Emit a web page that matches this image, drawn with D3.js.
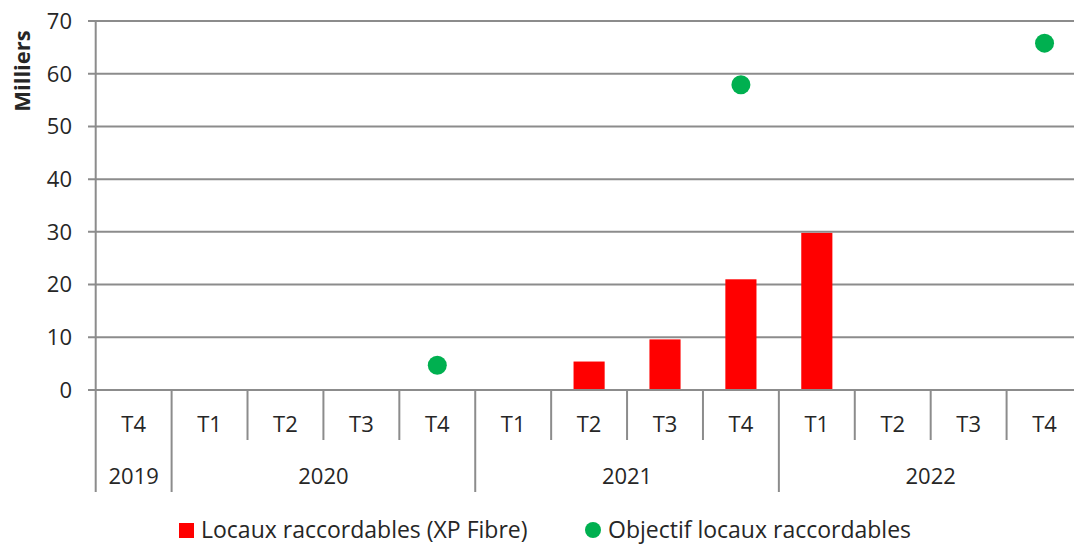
<!DOCTYPE html>
<html><head><meta charset="utf-8">
<script src="https://cdn.jsdelivr.net/npm/d3@7"></script>
<style>body{margin:0;background:#fff}svg{display:block}text{font-family:"Open Sans",sans-serif;fill:#262626}</style>
</head><body><div id="chart"></div>
<script>
const quarters = ["T4","T1","T2","T3","T4","T1","T2","T3","T4","T1","T2","T3","T4"];
const years = ["2019","2020","2020","2020","2020","2021","2021","2021","2021","2022","2022","2022","2022"];
const yearGroups = [{year:"2019",start:0,end:1},{year:"2020",start:1,end:5},{year:"2021",start:5,end:9},{year:"2022",start:9,end:13}];
const locaux = [null,null,null,null,null,null,5.4,9.6,21.0,29.8,null,null,null];
const objectif = [null,null,null,null,4.7,null,null,null,57.9,null,null,null,65.8];
const yTicks = [0,10,20,30,40,50,60,70];
const seriesNames = ["Locaux raccordables (XP Fibre)","Objectif locaux raccordables"];

const W=1074,H=550;
const svg=d3.select("#chart").append("svg").attr("width",W).attr("height",H);
const x0=95.7,x1=1082.5,yTop=21,yBot=390;
const idx=d3.range(quarters.length);
const x=d3.scaleBand().domain(idx).range([x0,x1]).paddingInner(0).paddingOuter(0);
const y=d3.scaleLinear().domain([0,70]).range([yBot,yTop]);
const grid="#8c8c8c";
const fs=22;

svg.append("g").selectAll("line").data(yTicks).join("line")
  .attr("x1",88).attr("x2",x1).attr("y1",d=>y(d)).attr("y2",d=>y(d))
  .attr("stroke",grid).attr("stroke-width",2);
svg.append("g").selectAll("text").data(yTicks).join("text")
  .attr("x",72).attr("y",d=>y(d)).attr("dy","0.36em").attr("text-anchor","end")
  .attr("font-size",fs).text(d=>d);
svg.append("line").attr("x1",x0).attr("x2",x0).attr("y1",yTop).attr("y2",492).attr("stroke",grid).attr("stroke-width",2);
const seps=d3.range(1,quarters.length);
const yearStarts=new Set(yearGroups.map(g=>g.start));
svg.append("g").selectAll("line").data(seps).join("line")
  .attr("x1",d=>x(d)).attr("x2",d=>x(d)).attr("y1",yBot).attr("y2",d=>yearStarts.has(d)?492:440)
  .attr("stroke",grid).attr("stroke-width",2);
const bw=x.bandwidth()*0.41;
svg.append("g").selectAll("rect").data(idx.filter(i=>locaux[i]!=null)).join("rect")
  .attr("x",i=>x(i)+x.bandwidth()/2-bw/2).attr("width",bw)
  .attr("y",i=>y(locaux[i])).attr("height",i=>y(0)-y(locaux[i])).attr("fill","#ff0000");
svg.append("line").attr("x1",88).attr("x2",x1).attr("y1",y(0)).attr("y2",y(0)).attr("stroke",grid).attr("stroke-width",2);
svg.append("g").selectAll("circle").data(idx.filter(i=>objectif[i]!=null)).join("circle")
  .attr("cx",i=>x(i)+x.bandwidth()/2).attr("cy",i=>y(objectif[i])).attr("r",9.5).attr("fill","#00b050");
svg.append("g").selectAll("text").data(idx).join("text")
  .attr("x",i=>x(i)+x.bandwidth()/2).attr("y",424).attr("dy","0.36em").attr("text-anchor","middle")
  .attr("font-size",fs).text(i=>quarters[i]);
svg.append("g").selectAll("text").data(yearGroups).join("text")
  .attr("x",g=>(x(g.start)+x(g.end-1)+x.bandwidth())/2).attr("y",476).attr("dy","0.36em").attr("text-anchor","middle")
  .attr("font-size",fs).text(g=>g.year);
svg.append("text").attr("transform","translate(22,71) rotate(-90)").attr("text-anchor","middle").attr("dy","0.36em")
  .attr("font-size",22).attr("font-weight","bold").attr("fill","#000").text("Milliers");
const lg=svg.append("g");
lg.append("rect").attr("x",179).attr("y",523).attr("width",15).attr("height",15).attr("fill","#ff0000");
lg.append("text").attr("x",201).attr("y",530).attr("dy","0.36em").attr("font-size",23).text(seriesNames[0]);
lg.append("circle").attr("cx",593).attr("cy",530).attr("r",8).attr("fill","#00b050");
lg.append("text").attr("x",608).attr("y",530).attr("dy","0.36em").attr("font-size",23).text(seriesNames[1]);
</script></body></html>
